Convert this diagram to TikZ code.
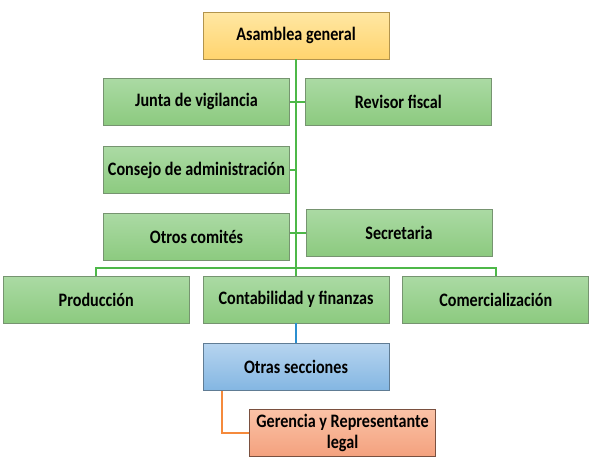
\documentclass[tikz,border=0pt]{standalone}
\usepackage{fontspec}
\setmainfont[FakeStretch=0.85]{Carlito}
\usepackage{tikz}
\usetikzlibrary{positioning}

\definecolor{amarillo1}{HTML}{FFE7A3}
\definecolor{amarillo2}{HTML}{FFD46E}
\definecolor{verde1}{HTML}{ABDAA4}
\definecolor{verde2}{HTML}{8CCA7F}
\definecolor{azul1}{HTML}{B6D4EF}
\definecolor{azul2}{HTML}{83B6E2}
\definecolor{salmon1}{HTML}{FAC2A6}
\definecolor{salmon2}{HTML}{F4A17E}
\definecolor{lineaverde}{HTML}{4DB848}
\definecolor{lineaazul}{HTML}{2B8FD0}
\definecolor{lineanaranja}{HTML}{F58A3C}

\tikzset{
    cargo/.style={rectangle, draw=black!45, line width=0.8pt, minimum width=186pt, minimum height=47pt,
        inner sep=2pt, align=center, font=\bfseries\fontsize{19}{21}\selectfont},
    verde/.style={cargo, top color=verde1, bottom color=verde2, draw=verde2!60!black!80},
    amarillo/.style={cargo, top color=amarillo1, bottom color=amarillo2, draw=amarillo2!70!black},
    azul/.style={cargo, top color=azul1, bottom color=azul2, draw=azul2!60!black!90},
    salmon/.style={cargo, top color=salmon1, bottom color=salmon2, draw=salmon2!50!black},
    rama/.style={draw=lineaverde, line width=2pt}
}

\begin{document}
\begin{tikzpicture}[x=1pt, y=-1pt, node distance=20pt]
    \useasboundingbox (0,0) rectangle (594,469);

    \node (asamblea) [amarillo] at (296,35.5) {Asamblea general};
    \node (junta) [verde] at (196.5,101.5) {Junta de vigilancia};
    \node (revisor) [verde, right=15pt of junta] {Revisor fiscal};
    \node (consejo) [verde, below=21pt of junta] {Consejo de administración};
    \node (comites) [verde, below=19pt of consejo] {Otros comités};
    \node (secretaria) [verde] at (399,232.5) {Secretaria};
    \node (contab) [verde] at (296,299.5) {Contabilidad y finanzas};
    \node (produccion) [verde, left=13pt of contab] {Producción};
    \node (comercial) [verde, right=13pt of contab] {Comercialización};
    \node (otras) [azul, below=of contab] {Otras secciones};
    \node (gerencia) [salmon, below=18pt of otras, xshift=46.5pt] {Gerencia y Representante\\legal};
    \coordinate (bus) at (296,268);

    \draw [rama] (asamblea) -- (contab);
    \draw [rama] (junta) -- (revisor);
    \draw [rama] (consejo.east) -- (consejo.east -| asamblea.south);
    \draw [rama] (secretaria.west -| comites.east) -- (secretaria.west);
    \draw [rama] (produccion.north) |- (bus) -| (comercial.north);
    \draw [draw=lineaazul, line width=1.2pt] (contab) -- (otras);
    \draw [draw=lineanaranja, line width=2pt] ([xshift=19pt]otras.south west) |- (gerencia.west);
\end{tikzpicture}
\end{document}
